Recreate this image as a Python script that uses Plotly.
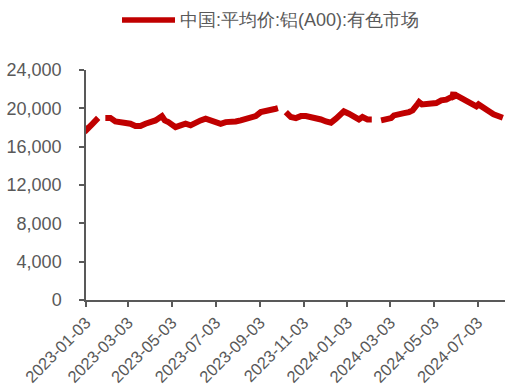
import plotly.graph_objects as go

# 中国:平均价:铝(A00):有色市场, 元/吨 (sampled roughly weekly; None marks holiday breaks)
dates = [
    "2023-01-03", "2023-01-05", "2023-01-11", "2023-01-16", "2023-01-20", "2023-01-25",
    "2023-01-30", "2023-02-06", "2023-02-13", "2023-02-20", "2023-02-27", "2023-03-06",
    "2023-03-13", "2023-03-20", "2023-03-27", "2023-04-03", "2023-04-10", "2023-04-19",
    "2023-04-23", "2023-04-28", "2023-05-08", "2023-05-15", "2023-05-22", "2023-05-29",
    "2023-06-05", "2023-06-12", "2023-06-19", "2023-06-26", "2023-07-03", "2023-07-10",
    "2023-07-17", "2023-07-24", "2023-07-31", "2023-08-07", "2023-08-14", "2023-08-21",
    "2023-08-28", "2023-09-04", "2023-09-11", "2023-09-18", "2023-09-25", "2023-09-28",
    "2023-10-03", "2023-10-09", "2023-10-16", "2023-10-23", "2023-10-30", "2023-11-06",
    "2023-11-13", "2023-11-20", "2023-11-27", "2023-12-04", "2023-12-11", "2023-12-18",
    "2023-12-25", "2023-12-29", "2024-01-05", "2024-01-12", "2024-01-19", "2024-01-24",
    "2024-01-31", "2024-02-06", "2024-02-12", "2024-02-19", "2024-02-26", "2024-03-04",
    "2024-03-08", "2024-03-15", "2024-03-22", "2024-03-29", "2024-04-03", "2024-04-10",
    "2024-04-12", "2024-04-16", "2024-04-22", "2024-04-29", "2024-05-06", "2024-05-13",
    "2024-05-20", "2024-05-27", "2024-05-29", "2024-05-30", "2024-05-31", "2024-06-03",
    "2024-06-11", "2024-06-17", "2024-06-24", "2024-07-01", "2024-07-04", "2024-07-11",
    "2024-07-18", "2024-07-25", "2024-08-01", "2024-08-07",
]
prices = [
    18200, 17850, 18300, 18700, 19000, None,
    19000, 19000, 18630, 18560, 18390, 18390,
    18150, 18150, 18390, 18560, 18740, 19190,
    18740, 18560, 18040, 18220, 18390, 18220,
    18560, 18740, 18920, 18740, 18560, 18390,
    18560, 18560, 18630, 18740, 18840, 18980,
    19190, 19610, 19680, 19780, 19960, 20020,
    None, 19610, 19090, 18980, 19190, 19190,
    19090, 18980, 18840, 18630, 18500, 18920,
    19330, 19680, 19440, 19090, 18840, 19090,
    18840, 18840, None, 18740, 18920, 18980,
    19260, 19440, 19500, 19610, 19780, 20450,
    20650, 20410, 20480, 20480, 20550, 20830,
    20900, 21170, 21300, 21690, 21250, 21350,
    21000, 20650, 20410, 20200, 20410, 20130,
    19710, 19370, 19260, 19020,
]

tick_dates = [
    "2023-01-03", "2023-03-03", "2023-05-03", "2023-07-03", "2023-09-03",
    "2023-11-03", "2024-01-03", "2024-03-03", "2024-05-03", "2024-07-03",
]
y_ticks = [0, 4000, 8000, 12000, 16000, 20000, 24000]
series_name = "中国:平均价:铝(A00):有色市场"

line_color = "#C00000"
text_color = "#595959"
axis_color = "#595959"
font_family = "Liberation Sans, Arial, sans-serif"
font_size = 18

fig = go.Figure()
fig.add_trace(go.Scatter(
    x=dates, y=prices, mode="lines", name=series_name,
    line=dict(color=line_color, width=6), connectgaps=False,
    showlegend=False,
))

W, H = 505, 390
ml, mr, mt, mb = 86, 0, 70, 90
pw = W - ml - mr
ph = H - mt - mb


def px_x(p):
    return (p - ml) / pw


def px_y(p):
    return (H - mb - p) / ph


# legend drawn as a swatch plus label above the plot
fig.add_shape(type="line", xref="paper", yref="paper",
              x0=px_x(122), x1=px_x(175), y0=px_y(20), y1=px_y(20),
              line=dict(color=line_color, width=5.5))
fig.add_annotation(xref="paper", yref="paper", x=px_x(178), y=px_y(20),
                   xanchor="left", yanchor="middle", showarrow=False,
                   text=series_name,
                   font=dict(family=font_family, size=font_size, color=text_color))

fig.update_layout(
    width=W, height=H,
    margin=dict(l=ml, r=mr, t=mt, b=mb),
    plot_bgcolor="white", paper_bgcolor="white",
    font=dict(family=font_family, size=font_size, color=text_color),
)
fig.update_xaxes(
    type="date", range=["2023-01-03", "2024-08-10"],
    tickvals=tick_dates, ticktext=tick_dates, tickangle=-45,
    showgrid=False, zeroline=False, automargin=False,
    showline=True, linecolor=axis_color, linewidth=1.5,
    ticks="outside", ticklen=5, tickcolor=axis_color, tickwidth=1.5,
    tickfont=dict(size=16.5, color=text_color),
)
fig.update_yaxes(
    range=[0, 24000], tickvals=y_ticks, tickformat=",d",
    showgrid=False, zeroline=False, automargin=False,
    showline=True, linecolor=axis_color, linewidth=1.5,
    ticks="outside", ticklen=5, tickcolor=axis_color, tickwidth=1.5,
    ticklabelstandoff=14,
    tickfont=dict(size=font_size, color=text_color),
)

fig.write_html("out.html")
